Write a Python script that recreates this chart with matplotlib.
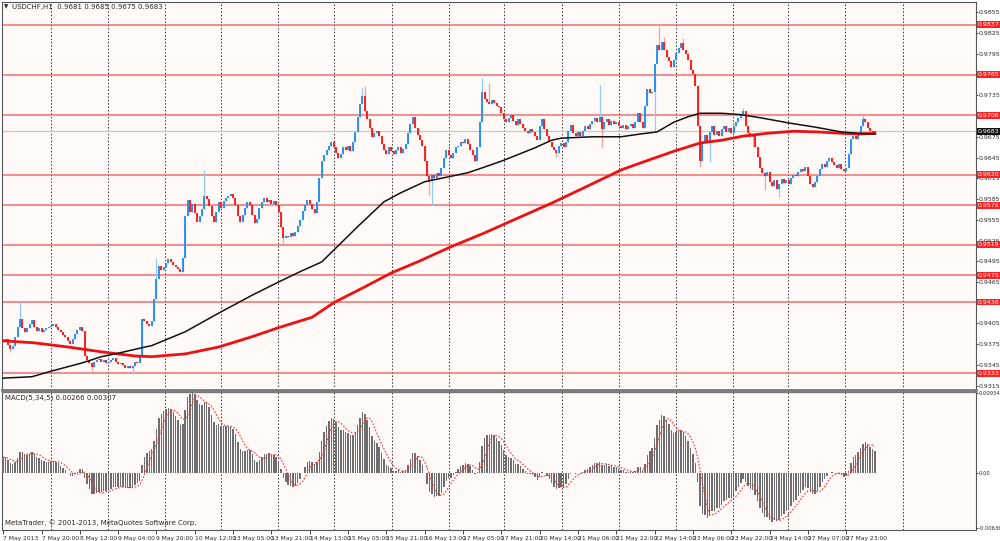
import numpy as np
import pandas as pd
import matplotlib
matplotlib.use('Agg')
import matplotlib.pyplot as plt
import matplotlib.transforms as mtransforms

# USDCHF H1 closes, one per bar (7 May 2013 04:00 -> 28 May 2013)
closes = [
    0.9380, 0.9382, 0.9374, 0.9368, 0.9372, 0.9386, 0.9400, 0.9412, 0.9398, 0.9392,
    0.9398, 0.9404, 0.9410, 0.9400, 0.9394, 0.9398, 0.9392, 0.9395, 0.9398, 0.9400,
    0.9402, 0.9404, 0.9400, 0.9396, 0.9392, 0.9388, 0.9386, 0.9380, 0.9376, 0.9382,
    0.9390, 0.9396, 0.9400, 0.9394, 0.9358, 0.9352, 0.9348, 0.9342, 0.9350, 0.9352,
    0.9354, 0.9350, 0.9352, 0.9348, 0.9350, 0.9352, 0.9355, 0.9350, 0.9346, 0.9348,
    0.9345, 0.9340, 0.9344, 0.9340, 0.9344, 0.9350, 0.9348, 0.9356, 0.9412, 0.9408,
    0.9404, 0.9402, 0.9408, 0.9440, 0.9470, 0.9488, 0.9482, 0.9486, 0.9492, 0.9498,
    0.9494, 0.9490, 0.9486, 0.9484, 0.9480, 0.9500, 0.9560, 0.9584, 0.9566, 0.9578,
    0.9565, 0.9552, 0.9560, 0.9570, 0.9590, 0.9585, 0.9575, 0.9560, 0.9552, 0.9566,
    0.9580, 0.9572, 0.9582, 0.9586, 0.9590, 0.9592, 0.9586, 0.9576, 0.9560, 0.9552,
    0.9562, 0.9572, 0.9580, 0.9576, 0.9562, 0.9550, 0.9556, 0.9572, 0.9580, 0.9586,
    0.9580, 0.9584, 0.9578, 0.9582, 0.9576, 0.9566, 0.9545, 0.9528, 0.9532, 0.9530,
    0.9536, 0.9532, 0.9538, 0.9546, 0.9555, 0.9568, 0.9576, 0.9584, 0.9578, 0.9570,
    0.9565, 0.9580, 0.9615, 0.9640, 0.9648, 0.9656, 0.9662, 0.9668, 0.9660, 0.9652,
    0.9645, 0.9650, 0.9660, 0.9656, 0.9662, 0.9655, 0.9668, 0.9682, 0.9704, 0.9722,
    0.9734, 0.9712, 0.9700, 0.9688, 0.9674, 0.9680, 0.9684, 0.9676, 0.9664, 0.9656,
    0.9650, 0.9660, 0.9654, 0.9650, 0.9656, 0.9660, 0.9652, 0.9658, 0.9664, 0.9680,
    0.9694, 0.9704, 0.9688, 0.9678, 0.9670, 0.9662, 0.9640, 0.9618, 0.9612, 0.9620,
    0.9616, 0.9622, 0.9618, 0.9630, 0.9645, 0.9656, 0.9648, 0.9644, 0.9652, 0.9660,
    0.9662, 0.9668, 0.9666, 0.9672, 0.9664, 0.9656, 0.9648, 0.9640, 0.9660, 0.9696,
    0.9740, 0.9730, 0.9726, 0.9722, 0.9728, 0.9724, 0.9720, 0.9718, 0.9710, 0.9700,
    0.9696, 0.9702, 0.9706, 0.9698, 0.9692, 0.9700, 0.9694, 0.9688, 0.9684, 0.9680,
    0.9686, 0.9682, 0.9676, 0.9670, 0.9690, 0.9700, 0.9686, 0.9676, 0.9668, 0.9660,
    0.9656, 0.9652, 0.9662, 0.9666, 0.9660, 0.9668, 0.9684, 0.9692, 0.9680, 0.9676,
    0.9682, 0.9676, 0.9684, 0.9690, 0.9686, 0.9694, 0.9698, 0.9702, 0.9696, 0.9704,
    0.9686, 0.9696, 0.9700, 0.9692, 0.9698, 0.9694, 0.9696, 0.9690, 0.9688, 0.9692,
    0.9686, 0.9690, 0.9694, 0.9688, 0.9696, 0.9710, 0.9696, 0.9688, 0.9720, 0.9744,
    0.9738, 0.9740, 0.9780, 0.9808, 0.9800, 0.9812, 0.9800, 0.9790, 0.9784, 0.9776,
    0.9786, 0.9796, 0.9804, 0.9810, 0.9800, 0.9794, 0.9786, 0.9772, 0.9766, 0.9748,
    0.9690, 0.9640, 0.9668, 0.9678, 0.9668, 0.9682, 0.9690, 0.9678, 0.9684, 0.9676,
    0.9686, 0.9690, 0.9682, 0.9688, 0.9680, 0.9690, 0.9696, 0.9702, 0.9708, 0.9712,
    0.9690, 0.9680, 0.9674, 0.9678, 0.9660, 0.9646, 0.9630, 0.9622, 0.9618, 0.9624,
    0.9610, 0.9604, 0.9612, 0.9600, 0.9606, 0.9614, 0.9608, 0.9612, 0.9606, 0.9616,
    0.9620, 0.9618, 0.9624, 0.9628, 0.9626, 0.9632, 0.9618, 0.9606, 0.9602, 0.9610,
    0.9618, 0.9628, 0.9636, 0.9632, 0.9640, 0.9644, 0.9638, 0.9634, 0.9630, 0.9636,
    0.9628, 0.9626, 0.9630, 0.9650, 0.9672, 0.9676, 0.9672, 0.9678, 0.9690, 0.9700,
    0.9696, 0.9688, 0.9684, 0.9681, 0.9683,
]
first_open = 0.9378

# wick extremes that stand out in the picture (bar index -> price)
spike_high = {7: 0.9436, 64: 0.9500, 84: 0.9627, 150: 0.9745, 151: 0.9748,
              200: 0.9760, 203: 0.9753, 249: 0.9750, 274: 0.9837, 276: 0.9820,
              284: 0.9818, 309: 0.9716, 359: 0.9706}
spike_low = {3: 0.9364, 37: 0.9336, 54: 0.9332, 117: 0.9520, 178: 0.9591,
             179: 0.9576, 197: 0.9638, 231: 0.9646, 250: 0.9660, 272: 0.9684,
             291: 0.9632, 295: 0.9639, 313: 0.9660, 318: 0.9598, 324: 0.9588}

# moving averages (bar index, price)
ma_black_bars = [0, 12, 20, 33, 41, 48, 58, 62, 76, 90, 104, 115, 124, 133, 138, 148,
                 159, 166, 176, 183, 194, 200, 209, 222, 229, 233, 246, 258, 266, 273,
                 280, 286, 291, 300, 308, 317, 328, 339, 350, 357, 364]
ma_black_vals = [0.9326, 0.9328, 0.9336, 0.9348, 0.9357, 0.9362, 0.9370, 0.9373, 0.9393,
                 0.9420, 0.9446, 0.9465, 0.9480, 0.9494, 0.9511, 0.9545, 0.9581, 0.9594,
                 0.9610, 0.9615, 0.9623, 0.9630, 0.9641, 0.9659, 0.9670, 0.9673, 0.9675,
                 0.9675, 0.9679, 0.9682, 0.9696, 0.9704, 0.9709, 0.9709, 0.9707, 0.9702,
                 0.9695, 0.9689, 0.9682, 0.9680, 0.9679]
ma_red_bars = [0, 13, 27, 41, 55, 62, 76, 90, 104, 115, 129, 138, 151, 162, 173, 187,
               201, 212, 229, 243, 258, 266, 280, 291, 300, 309, 319, 330, 340, 350, 357, 364]
ma_red_vals = [0.9380, 0.9377, 0.9371, 0.9364, 0.9358, 0.9357, 0.9361, 0.9371, 0.9386,
               0.9399, 0.9414, 0.9435, 0.9458, 0.9478, 0.9494, 0.9516, 0.9536, 0.9553,
               0.9579, 0.9602, 0.9627, 0.9637, 0.9654, 0.9666, 0.9670, 0.9676, 0.9680,
               0.9683, 0.9682, 0.9680, 0.9679, 0.9680]

levels = [0.9837, 0.9765, 0.9706, 0.9620, 0.9576, 0.9519, 0.9475, 0.9436, 0.9333]
last_price = 0.9683
macd_start = 0.0019

time_ticks = list(range(0, 353, 16))
time_labels = ['7 May 2013', '7 May 20:00', '8 May 12:00', '9 May 04:00', '9 May 20:00',
               '10 May 12:00', '13 May 05:00', '13 May 21:00', '14 May 13:00',
               '15 May 05:00', '15 May 21:00', '16 May 13:00', '17 May 05:00',
               '17 May 21:00', '20 May 14:00', '21 May 06:00', '21 May 22:00',
               '22 May 14:00', '23 May 06:00', '23 May 22:00', '24 May 14:00',
               '27 May 07:00', '27 May 23:00']
grid_pos = [19.8, 43.8, 67.6, 90.8, 114.8, 138.2, 162.4, 186.2, 209.2, 233.4,
            257.2, 281.0, 304.8, 327.8, 351.6, 375.8]

n = len(closes)
x = np.arange(n)
close = np.array(closes)
opens = np.concatenate([[first_open], close[:-1]])
high = np.maximum(opens, close)
low = np.minimum(opens, close)
for k, v in spike_high.items():
    high[k] = max(high[k], v)
for k, v in spike_low.items():
    low[k] = min(low[k], v)

# MACD(5,34,5)
fast = np.empty(n)
slow = np.empty(n)
fast[0] = close[0]
slow[0] = close[0] - macd_start
for i in range(1, n):
    fast[i] = fast[i - 1] + (close[i] - fast[i - 1]) * 2 / 6
    slow[i] = slow[i - 1] + (close[i] - slow[i - 1]) * 2 / 35
macd = fast - slow
signal = pd.Series(macd).rolling(5, min_periods=1).mean().values

bg = '#fffaf8'
frame = '#555555'
txt = '#2a2a2a'
plt.rcParams['font.family'] = ['Liberation Sans Narrow', 'DejaVu Sans']

fig = plt.figure(figsize=(10, 5.41), dpi=100)
ax = fig.add_axes([0.002, 0.2791, 0.9735, 0.7172], facecolor=bg)
ax2 = fig.add_axes([0.002, 0.0203, 0.9735, 0.2551], facecolor=bg, sharex=ax)

ax.set_xlim(-0.5, 406.0)
ax.set_ylim(0.93088, 0.98699)
ax2.set_ylim(-0.00659, 0.00946)

for a in (ax, ax2):
    for gx in grid_pos:
        a.axvline(gx, color='#333333', lw=0.7, ls=(0, (1.5, 2)), zorder=1)
    for s in a.spines.values():
        s.set_color(frame)
        s.set_linewidth(0.8)
ax.spines['bottom'].set_linewidth(2.0)
ax.spines['bottom'].set_color('#777777')
ax2.spines['top'].set_linewidth(1.0)
ax2.spines['top'].set_color('#777777')

# support / resistance levels and current price line
for lv in levels:
    ax.axhline(lv, color='#f06060', lw=1.1, alpha=0.9, zorder=2)
ax.axhline(last_price, color='#c8c8c8', lw=0.9, zorder=2)

# candles
up = close >= opens
for mask, wick_c, body_c in ((up, '#8ec9fa', '#1e8cf0'), (~up, '#f7a0a0', '#ff1010')):
    ax.vlines(x[mask], low[mask], high[mask], color=wick_c, lw=0.9, zorder=3)
    b_lo = np.minimum(opens, close)[mask]
    b_hi = np.maximum(np.maximum(opens, close)[mask], b_lo + 0.00006)
    ax.vlines(x[mask], b_lo, b_hi, color=body_c, lw=1.3, zorder=4)

# moving averages
ax.plot(ma_red_bars, ma_red_vals, color='#ee1111', lw=2.0, zorder=5)
ax.plot(ma_black_bars, ma_black_vals, color='#111111', lw=1.1, zorder=6)

# price axis on the right
ax.yaxis.tick_right()
price_ticks = np.round(np.arange(0.9315, 0.98551, 0.003), 4)
ax.set_yticks(price_ticks)
ax.set_yticklabels([f'{t:.4f}' for t in price_ticks])
ax.tick_params(axis='y', labelsize=4.5, length=1.5, width=0.6, pad=0.6, colors=txt)
ax.tick_params(axis='x', bottom=False, labelbottom=False)

trans = mtransforms.blended_transform_factory(ax.transAxes, ax.transData)
for lv in levels:
    ax.text(1.0025, lv, f'{lv:.4f}', transform=trans, fontsize=4.5, color='white',
            va='center', ha='left', zorder=10, clip_on=False,
            bbox=dict(boxstyle='square,pad=0.15', fc='#ff2020', ec='none'))
ax.text(1.0025, last_price, f'{last_price:.4f}', transform=trans, fontsize=4.5,
        color='white', va='center', ha='left', zorder=10, clip_on=False,
        bbox=dict(boxstyle='square,pad=0.15', fc='#111111', ec='none'))

ax.text(0.0025, 0.993, '▼', transform=ax.transAxes, fontsize=4, va='top', ha='left',
        color=txt, family='DejaVu Sans')
ax.text(0.010, 0.994, 'USDCHF,H1  0.9681 0.9685 0.9675 0.9683', transform=ax.transAxes,
        fontsize=5, va='top', ha='left', color=txt)

# MACD panel
ax2.bar(x, macd, width=0.6, color='#6e6e6e', zorder=3)
ax2.plot(x, signal, color='#ff3030', lw=0.8, ls=(0, (1.5, 1.5)), zorder=4)
ax2.yaxis.tick_right()
ax2.set_yticks([0.00934, 0.0, -0.00636])
ax2.set_yticklabels(['0.00934', '0.00', '-0.00636'])
ax2.tick_params(axis='y', labelsize=3.8, length=1.5, width=0.6, pad=0.5, colors=txt)
for lab in ax2.get_yticklabels():
    lab.set_verticalalignment('center_baseline')
ax2.text(0.003, 0.985, 'MACD(5,34,5) 0.00266 0.00307', transform=ax2.transAxes,
         fontsize=5, va='top', ha='left', color=txt)
ax2.text(0.003, 0.03, 'MetaTrader, © 2001-2013, MetaQuotes Software Corp.',
         transform=ax2.transAxes, fontsize=5, va='bottom', ha='left', color=txt)

ax2.set_xticks(time_ticks)
ax2.set_xticklabels(time_labels, ha='left')
ax2.tick_params(axis='x', labelsize=4.3, length=3, width=0.6, pad=1.5, colors=txt)

fig.savefig('out.png', dpi=100, facecolor='white')
